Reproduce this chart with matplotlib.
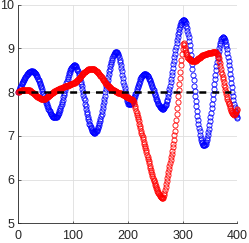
import numpy as np
import matplotlib
matplotlib.use("Agg")
import matplotlib.pyplot as plt

# ---- data (x = 0..400, step 1) ----
blue = [
    8.00, 8.03, 8.06, 8.09, 8.12, 8.15, 8.18, 8.20, 8.23, 8.26,
    8.28, 8.31, 8.33, 8.35, 8.37, 8.39, 8.41, 8.42, 8.43, 8.45,
    8.46, 8.46, 8.47, 8.48, 8.48, 8.48, 8.48, 8.47, 8.47, 8.46,
    8.44, 8.43, 8.41, 8.39, 8.36, 8.34, 8.31, 8.28, 8.25, 8.22,
    8.18, 8.14, 8.11, 8.07, 8.03, 7.99, 7.95, 7.91, 7.87, 7.83,
    7.79, 7.76, 7.72, 7.69, 7.65, 7.62, 7.59, 7.56, 7.54, 7.51,
    7.49, 7.47, 7.46, 7.44, 7.43, 7.43, 7.42, 7.42, 7.42, 7.43,
    7.44, 7.46, 7.48, 7.50, 7.53, 7.57, 7.60, 7.64, 7.69, 7.73,
    7.78, 7.83, 7.88, 7.94, 7.99, 8.04, 8.09, 8.15, 8.20, 8.25,
    8.30, 8.34, 8.39, 8.43, 8.46, 8.50, 8.53, 8.55, 8.57, 8.59,
    8.60, 8.61, 8.61, 8.61, 8.60, 8.59, 8.57, 8.54, 8.51, 8.48,
    8.44, 8.40, 8.35, 8.30, 8.24, 8.19, 8.13, 8.07, 8.00, 7.94,
    7.87, 7.81, 7.74, 7.68, 7.61, 7.55, 7.49, 7.44, 7.38, 7.33,
    7.28, 7.24, 7.20, 7.17, 7.14, 7.11, 7.09, 7.08, 7.07, 7.07,
    7.07, 7.08, 7.10, 7.12, 7.14, 7.17, 7.21, 7.25, 7.29, 7.34,
    7.39, 7.45, 7.51, 7.58, 7.64, 7.71, 7.78, 7.85, 7.92, 8.00,
    8.07, 8.14, 8.21, 8.28, 8.35, 8.41, 8.48, 8.54, 8.60, 8.65,
    8.70, 8.74, 8.78, 8.82, 8.85, 8.87, 8.89, 8.91, 8.92, 8.92,
    8.91, 8.90, 8.87, 8.84, 8.80, 8.74, 8.69, 8.62, 8.55, 8.48,
    8.40, 8.32, 8.24, 8.16, 8.09, 8.02, 7.95, 7.90, 7.84, 7.80,
    7.77, 7.74, 7.73, 7.72, 7.72, 7.73, 7.74, 7.75, 7.77, 7.80,
    7.82, 7.85, 7.88, 7.92, 7.95, 7.99, 8.03, 8.07, 8.11, 8.15,
    8.19, 8.22, 8.26, 8.29, 8.32, 8.34, 8.37, 8.39, 8.40, 8.41,
    8.42, 8.42, 8.42, 8.41, 8.40, 8.39, 8.38, 8.36, 8.33, 8.31,
    8.28, 8.25, 8.22, 8.19, 8.15, 8.11, 8.08, 8.04, 8.00, 7.96,
    7.93, 7.89, 7.85, 7.82, 7.79, 7.76, 7.73, 7.71, 7.68, 7.66,
    7.65, 7.64, 7.63, 7.62, 7.62, 7.62, 7.63, 7.65, 7.68, 7.71,
    7.74, 7.79, 7.83, 7.89, 7.95, 8.01, 8.08, 8.15, 8.23, 8.31,
    8.39, 8.47, 8.55, 8.64, 8.72, 8.80, 8.88, 8.96, 9.04, 9.12,
    9.19, 9.26, 9.32, 9.38, 9.44, 9.48, 9.53, 9.56, 9.60, 9.62,
    9.64, 9.65, 9.65, 9.64, 9.63, 9.60, 9.57, 9.52, 9.47, 9.40,
    9.33, 9.25, 9.16, 9.07, 8.97, 8.86, 8.75, 8.64, 8.52, 8.40,
    8.28, 8.15, 8.03, 7.91, 7.79, 7.68, 7.57, 7.46, 7.36, 7.27,
    7.18, 7.10, 7.03, 6.96, 6.91, 6.86, 6.83, 6.80, 6.79, 6.78,
    6.78, 6.80, 6.82, 6.86, 6.90, 6.95, 7.02, 7.09, 7.16, 7.25,
    7.33, 7.43, 7.53, 7.63, 7.74, 7.85, 7.96, 8.07, 8.18, 8.29,
    8.40, 8.50, 8.60, 8.70, 8.78, 8.87, 8.94, 9.01, 9.08, 9.13,
    9.17, 9.21, 9.23, 9.25, 9.25, 9.24, 9.23, 9.20, 9.16, 9.11,
    9.05, 8.98, 8.90, 8.81, 8.72, 8.62, 8.52, 8.42, 8.32, 8.21,
    8.11, 8.01, 7.91, 7.82, 7.73, 7.65, 7.58, 7.52, 7.47, 7.43,
    7.40,
]

red = [
    8.00, 8.01, 8.02, 8.03, 8.03, 8.04, 8.04, 8.05, 8.05, 8.05,
    8.06, 8.06, 8.06, 8.06, 8.06, 8.06, 8.06, 8.06, 8.05, 8.05,
    8.04, 8.04, 8.03, 8.02, 8.01, 8.00, 7.99, 7.98, 7.97, 7.96,
    7.95, 7.94, 7.93, 7.92, 7.91, 7.90, 7.89, 7.88, 7.87, 7.86,
    7.86, 7.85, 7.85, 7.84, 7.84, 7.84, 7.84, 7.84, 7.85, 7.85,
    7.86, 7.87, 7.88, 7.89, 7.90, 7.91, 7.92, 7.93, 7.94, 7.95,
    7.96, 7.97, 7.98, 7.99, 8.00, 8.01, 8.02, 8.02, 8.03, 8.04,
    8.05, 8.05, 8.06, 8.07, 8.07, 8.08, 8.08, 8.09, 8.09, 8.10,
    8.10, 8.11, 8.11, 8.12, 8.12, 8.13, 8.13, 8.14, 8.14, 8.15,
    8.15, 8.16, 8.16, 8.17, 8.17, 8.18, 8.18, 8.19, 8.19, 8.20,
    8.20, 8.21, 8.21, 8.22, 8.23, 8.24, 8.25, 8.26, 8.27, 8.29,
    8.30, 8.32, 8.33, 8.35, 8.36, 8.38, 8.39, 8.41, 8.42, 8.43,
    8.45, 8.46, 8.47, 8.48, 8.49, 8.50, 8.51, 8.51, 8.52, 8.52,
    8.53, 8.53, 8.53, 8.54, 8.54, 8.54, 8.54, 8.53, 8.53, 8.52,
    8.51, 8.50, 8.49, 8.48, 8.47, 8.45, 8.44, 8.42, 8.41, 8.39,
    8.37, 8.36, 8.34, 8.32, 8.30, 8.28, 8.27, 8.25, 8.23, 8.22,
    8.20, 8.19, 8.17, 8.16, 8.14, 8.13, 8.12, 8.11, 8.10, 8.09,
    8.08, 8.07, 8.06, 8.05, 8.04, 8.04, 8.03, 8.02, 8.02, 8.01,
    8.00, 8.00, 7.99, 7.99, 7.98, 7.98, 7.97, 7.97, 7.96, 7.96,
    7.95, 7.94, 7.94, 7.93, 7.92, 7.92, 7.91, 7.90, 7.89, 7.89,
    7.88, 7.87, 7.86, 7.86, 7.85, 7.85, 7.84, 7.84, 7.83, 7.82,
    7.80, 7.77, 7.73, 7.68, 7.63, 7.58, 7.53, 7.48, 7.43, 7.38,
    7.33, 7.28, 7.23, 7.18, 7.12, 7.07, 7.02, 6.97, 6.92, 6.87,
    6.82, 6.77, 6.72, 6.67, 6.62, 6.57, 6.52, 6.47, 6.42, 6.37,
    6.32, 6.27, 6.22, 6.17, 6.13, 6.08, 6.04, 6.00, 5.96, 5.92,
    5.88, 5.85, 5.81, 5.78, 5.75, 5.72, 5.69, 5.67, 5.65, 5.63,
    5.61, 5.60, 5.59, 5.58, 5.59, 5.61, 5.65, 5.70, 5.76, 5.82,
    5.89, 5.96, 6.03, 6.10, 6.17, 6.24, 6.31, 6.38, 6.45, 6.52,
    6.59, 6.66, 6.74, 6.82, 6.91, 7.01, 7.12, 7.24, 7.37, 7.50,
    7.63, 7.77, 7.91, 8.05, 8.19, 8.33, 8.47, 8.61, 8.74, 8.87,
    8.99, 9.09, 9.13, 9.08, 9.02, 8.96, 8.91, 8.87, 8.84, 8.81,
    8.79, 8.77, 8.76, 8.75, 8.74, 8.73, 8.72, 8.72, 8.71, 8.71,
    8.71, 8.71, 8.71, 8.72, 8.72, 8.73, 8.74, 8.75, 8.76, 8.77,
    8.78, 8.79, 8.80, 8.81, 8.82, 8.83, 8.84, 8.84, 8.85, 8.86,
    8.86, 8.87, 8.87, 8.88, 8.88, 8.88, 8.89, 8.89, 8.89, 8.89,
    8.89, 8.90, 8.90, 8.90, 8.91, 8.91, 8.92, 8.92, 8.92, 8.92,
    8.92, 8.91, 8.90, 8.88, 8.85, 8.81, 8.77, 8.72, 8.66, 8.60,
    8.53, 8.47, 8.41, 8.35, 8.29, 8.23, 8.17, 8.11, 8.05, 8.00,
    7.95, 7.90, 7.85, 7.80, 7.76, 7.72, 7.68, 7.64, 7.60, 7.57,
    7.54, 7.52, 7.50, 7.49, 7.48, 7.49, 7.51, 7.54, 7.57, 7.60,
    7.62,
]

x_blue = np.arange(len(blue))
x_red = np.arange(len(red))
ref_x = [0, 388]
ref_y = [8, 8]

xticks = [0, 100, 200, 300, 400]
yticks = [5, 6, 7, 8, 9, 10]

plt.rcParams['font.family'] = ['Liberation Sans', 'DejaVu Sans']

fig = plt.figure(figsize=(2.49, 2.43), dpi=100)
ax = fig.add_axes([18.3 / 249, 19.7 / 243, 219 / 249, 218.6 / 243])

dark = (0.15, 0.15, 0.15)
ms = 3.7
mew = 0.6
ax.plot(x_blue, blue, linestyle='none', marker='o', markersize=ms,
        markerfacecolor='none', markeredgecolor=(0, 0, 1), markeredgewidth=mew,
        clip_on=False, zorder=3)
ax.plot(x_red, red, linestyle='none', marker='o', markersize=ms,
        markerfacecolor='none', markeredgecolor=(1, 0, 0), markeredgewidth=mew,
        clip_on=False, zorder=4)
lw = 1.8
ln, = ax.plot(ref_x, ref_y, color='black', linewidth=lw, zorder=5)
ln.set_dashes((5.0 / lw, 4.3 / lw))

ax.set_xlim(0, 400)
ax.set_ylim(5, 10)
ax.set_xticks(xticks)
ax.set_yticks(yticks)
ax.set_xticklabels([str(v) for v in xticks])
ax.set_yticklabels([str(v) for v in yticks])

ax.grid(True, color=(0.87, 0.87, 0.87), linewidth=0.6, zorder=0)
ax.set_axisbelow(True)
for s in ['top', 'right']:
    ax.spines[s].set_visible(False)
for s in ['left', 'bottom']:
    ax.spines[s].set_color(dark)
    ax.spines[s].set_linewidth(0.6)

ax.tick_params(axis='both', direction='in', length=1.8, width=0.5,
               colors=dark, labelsize=9)
ax.tick_params(axis='x', pad=5.0)
ax.tick_params(axis='y', pad=3.0)

fig.savefig('out.png', dpi=100)
